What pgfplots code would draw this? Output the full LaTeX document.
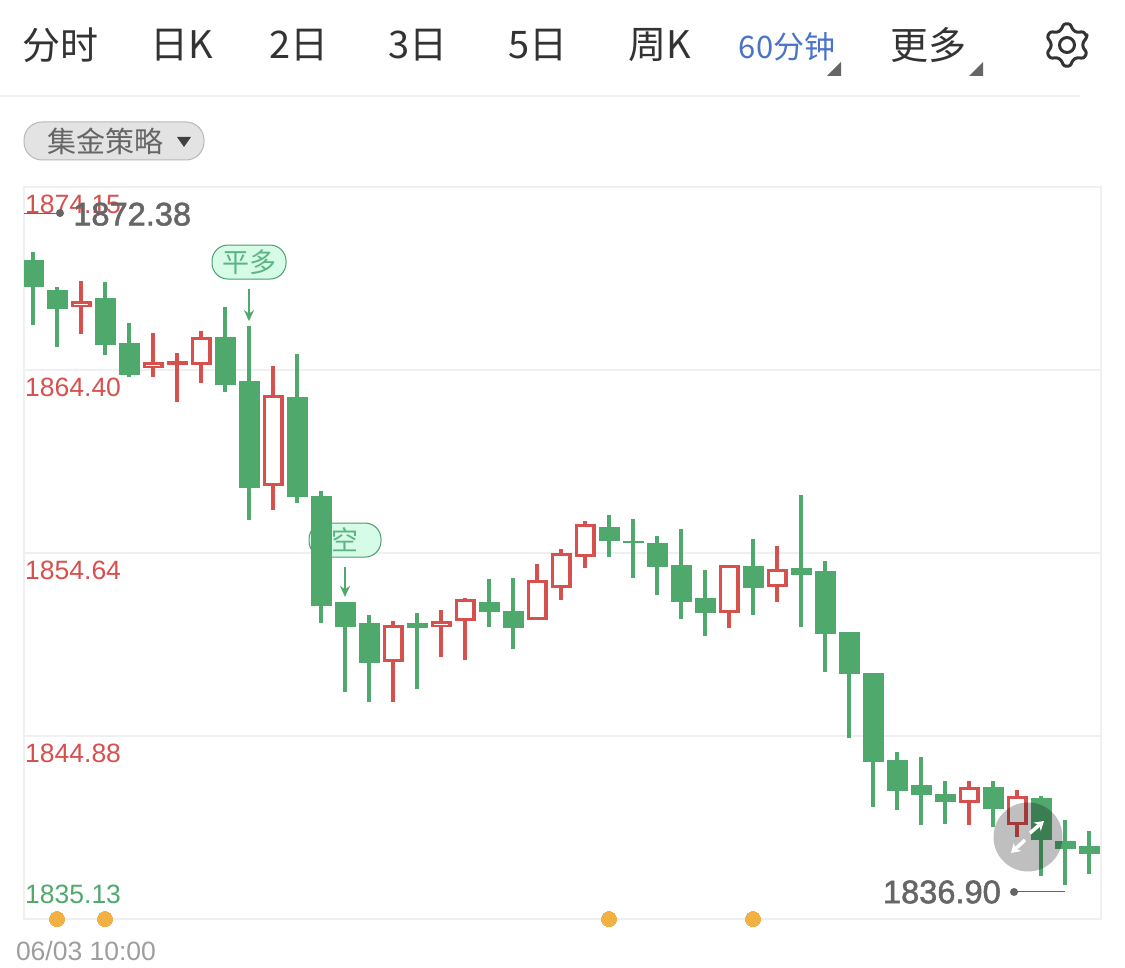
\documentclass[border=0pt]{standalone}
\usepackage{pgfplots}
\usepackage{pgfplotstable}
\pgfplotsset{compat=1.18}
\usepackage{fontspec}
\setmainfont{Liberation Sans}
\newfontfamily\cjk{Noto Sans CJK SC}
\newfontfamily\med[FakeBold=1.6]{Liberation Sans}
\usetikzlibrary{arrows.meta}
\definecolor{gr}{HTML}{4FA96D}
\definecolor{rd}{HTML}{D6504E}
\definecolor{gridc}{HTML}{F0F0F0}
\definecolor{pillf}{HTML}{D6FBE7}
\definecolor{pilld}{HTML}{4A9C6D}
\definecolor{pillt}{HTML}{5DB585}
\definecolor{ora}{HTML}{F3B143}
\definecolor{lab}{HTML}{666666}
\newcommand{\fs}[1]{\fontsize{#1pt}{#1pt}\selectfont}
% candles: i high bodytop bodybottom low
\pgfplotstableread{
i H T B L
0 1870.69 1870.26 1868.82 1866.79
1 1868.82 1868.66 1867.65 1865.62
3 1869.09 1868.23 1865.73 1865.19
4 1866.90 1865.83 1864.13 1864.02
8 1867.75 1866.15 1863.60 1863.22
9 1866.74 1863.81 1858.10 1856.40
11 1865.25 1862.96 1857.63 1857.30
12 1857.95 1857.68 1851.81 1850.91
13 1852.03 1852.03 1850.69 1847.23
14 1851.34 1850.91 1848.78 1846.70
16 1851.44 1850.91 1850.64 1847.39
19 1853.25 1852.03 1851.49 1850.69
20 1853.31 1851.55 1850.64 1849.52
24 1856.67 1856.03 1855.28 1854.43
25 1856.45 1855.28 1855.17 1853.31
26 1855.55 1855.17 1853.90 1852.40
27 1855.92 1854.00 1852.03 1851.12
28 1853.73 1852.24 1851.44 1850.22
30 1855.39 1853.95 1852.77 1851.34
32 1857.73 1853.84 1853.47 1850.69
33 1854.21 1853.68 1850.32 1848.30
34 1850.43 1850.43 1848.19 1844.78
35 1848.24 1848.24 1843.50 1841.10
36 1844.03 1843.61 1841.95 1840.94
37 1843.77 1842.27 1841.74 1840.14
38 1842.49 1841.79 1841.37 1840.19
40 1842.49 1842.17 1840.99 1840.03
42 1841.69 1841.58 1839.34 1837.42
43 1840.41 1839.29 1838.86 1836.94
44 1839.82 1839.02 1838.60 1837.53
}\greentab
\pgfplotstableread{
i H T B L
2 1869.14 1868.07 1867.75 1866.31
5 1866.37 1864.82 1864.50 1864.02
6 1865.30 1864.87 1864.66 1862.69
7 1866.47 1866.15 1864.66 1863.70
10 1864.61 1863.06 1858.21 1856.93
15 1851.01 1850.80 1848.85 1846.70
17 1851.60 1851.01 1850.69 1849.09
18 1852.24 1852.19 1851.01 1848.93
21 1854.05 1853.20 1851.07 1851.07
22 1854.85 1854.64 1852.77 1852.13
23 1856.35 1856.19 1854.43 1853.84
29 1854.00 1854.00 1851.44 1850.64
31 1855.01 1853.79 1852.83 1852.03
39 1842.49 1842.17 1841.31 1840.14
41 1842.01 1841.69 1840.14 1839.50
}\redtab
\pgfplotsset{base/.style={
  at={(24pt,48pt)},anchor=south west,scale only axis,
  width=1077pt,height=732pt,
  xmin=-0.375,xmax=44.5,ymin=1835.13,ymax=1874.15}}
\begin{document}
\begin{tikzpicture}
\useasboundingbox (0,0) rectangle (1125pt,967pt);
\fill[white] (0,0) rectangle (1125pt,967pt);
\begin{axis}[base,
  axis line style={gridc,line width=1.5pt},
  major tick length=0pt,
  ymajorgrids,
  grid style={gridc,line width=1.5pt},
  axis on top=false,
  ytick={1844.88,1854.64,1864.40,1874.15},
  yticklabels={1844.88,1854.64,1864.40,1874.15},
  yticklabel style={anchor=west,inner sep=0pt,xshift=1pt,yshift=-17pt,text=rd,font=\fs{26.5}},
  extra y ticks={1835.13},
  extra y tick labels={1835.13},
  extra y tick style={yticklabel style={text=gr,yshift=42pt}},
  xtick={2},
  xticklabels={06/03 10:00},
  xticklabel style={anchor=center,inner sep=0pt,xshift=5pt,yshift=-32pt,text=black!38,font=\fs{26.5}},
]
% signal pills below the candles
\node[draw=pilld,fill=pillf,line width=1pt,rounded corners=16pt,minimum width=74pt,minimum height=34pt,inner sep=0pt,text=pillt,font=\cjk\fs{27}] at (axis cs:9,1870.15) {平多};
\node[draw=pilld,fill=pillf,line width=1pt,rounded corners=16pt,minimum width=72pt,minimum height=34pt,inner sep=0pt,text=pillt,font=\cjk\fs{27}] at (axis cs:13,1855.33) {空};
\draw[gr,line width=2pt,-{Stealth[length=11pt,width=10pt]}] (axis cs:9,1868.71) -- (axis cs:9,1867.00);
\draw[gr,line width=2pt,-{Stealth[length=11pt,width=10pt]}] (axis cs:13,1853.89) -- (axis cs:13,1852.30);
% green wicks and bodies
\addplot[draw=none,forget plot,error bars/.cd,y dir=both,y explicit,error mark=none,error bar style={gr,line width=3.6pt}]
  table[x=i,y=B,y error plus expr=\thisrow{H}-\thisrow{B},y error minus expr=\thisrow{B}-\thisrow{L}] {\greentab};
\addplot[draw=none,forget plot,error bars/.cd,y dir=plus,y explicit,error mark=none,error bar style={gr,line width=21pt}]
  table[x=i,y=B,y error plus expr=\thisrow{T}-\thisrow{B}] {\greentab};
% red wicks, bodies and hollow centres
\addplot[draw=none,forget plot,error bars/.cd,y dir=both,y explicit,error mark=none,error bar style={rd,line width=3.6pt}]
  table[x=i,y=B,y error plus expr=\thisrow{H}-\thisrow{B},y error minus expr=\thisrow{B}-\thisrow{L}] {\redtab};
\addplot[draw=none,forget plot,error bars/.cd,y dir=plus,y explicit,error mark=none,error bar style={rd,line width=21pt}]
  table[x=i,y=B,y error plus expr=\thisrow{T}-\thisrow{B}] {\redtab};
\addplot[draw=none,forget plot,error bars/.cd,y dir=plus,y explicit,error mark=none,error bar style={white,line width=14.8pt}]
  table[x=i,y expr=\thisrow{B}+0.15,y error plus expr={max(\thisrow{T}-\thisrow{B}-0.30,0)}] {\redtab};
\end{axis}
% overlay: markers that leave the plotting area
\begin{axis}[base,axis lines=none,clip=false]
\addplot[only marks,ora,mark=*,mark size=7.5pt,mark options={draw=ora,fill=ora,line width=0pt}] coordinates {(1,1835.13)(3,1835.13)(24,1835.13)(30,1835.13)};
\draw[lab,line width=1pt] (axis cs:-0.375,1872.76) -- (axis cs:1.125,1872.76);
\fill[lab] (axis cs:1.125,1872.76) circle (4pt);
\node[anchor=west,inner sep=0pt,text=lab,font=\med\fs{32.6}] at (axis cs:1.67,1872.70) {1872.38};
\draw[lab,line width=1pt] (axis cs:40.875,1836.57) -- (axis cs:43,1836.57);
\fill[lab] (axis cs:40.875,1836.57) circle (4pt);
\node[anchor=east,inner sep=0pt,text=lab,font=\med\fs{32.6}] at (axis cs:40.333,1836.57) {1836.90};
\end{axis}
\begin{scope}[shift={(0pt,967pt)},x=1pt,y=-1pt]
% header
\draw[gridc,line width=1.5pt] (0,96) -- (1080,96);
\node[text=black!80,font=\cjk\fs{38}] at (60,45) {分时};
\node[text=black!80,font=\cjk\fs{38}] at (182,45) {日K};
\node[text=black!80,font=\cjk\fs{38}] at (299,45) {2日};
\node[text=black!80,font=\cjk\fs{38}] at (418,45) {3日};
\node[text=black!80,font=\cjk\fs{38}] at (538,45) {5日};
\node[text=black!80,font=\cjk\fs{38}] at (660,45) {周K};
\node[text={rgb,255:red,74;green,116;blue,201},font=\cjk\fs{31}] at (787,47) {60分钟};
\node[text=black!80,font=\cjk\fs{38}] at (928,45) {更多};
\fill[black!60] (841,62) -- (841,76) -- (827,76) -- cycle;
\fill[black!60] (983,62) -- (983,76) -- (969,76) -- cycle;
% gear
\begin{scope}[shift={(1067,45)}]
\draw[black!80,line width=3pt,rounded corners=2.5pt,line join=round]
  (21:21.5pt) \foreach \a in {30,90,...,330}{ -- (\a-9:21.5pt) -- (\a+9:21.5pt) -- (\a+21:16pt) -- (\a+39:16pt) } -- cycle;
\draw[black!80,line width=3pt] (0,0) circle (7.5pt);
\end{scope}
% strategy pill
\draw[draw=black!28,fill=black!11,line width=1pt,rounded corners=18pt] (24,122) rectangle (204,160);
\node[text=black!60,font=\cjk\fs{29}] at (105,141) {集金策略};
\fill[black!75] (177,137) -- (191,137) -- (184,147) -- cycle;
% expand button
\fill[black,opacity=0.25] (1028,837) circle (34.5pt);
\draw[white,line width=3.5pt,-{Stealth[length=9pt,width=11pt]}] (1030,833) -- (1044,821);
\draw[white,line width=3.5pt,-{Stealth[length=9pt,width=11pt]}] (1025,840) -- (1011,853);
\end{scope}
\end{tikzpicture}
\end{document}
